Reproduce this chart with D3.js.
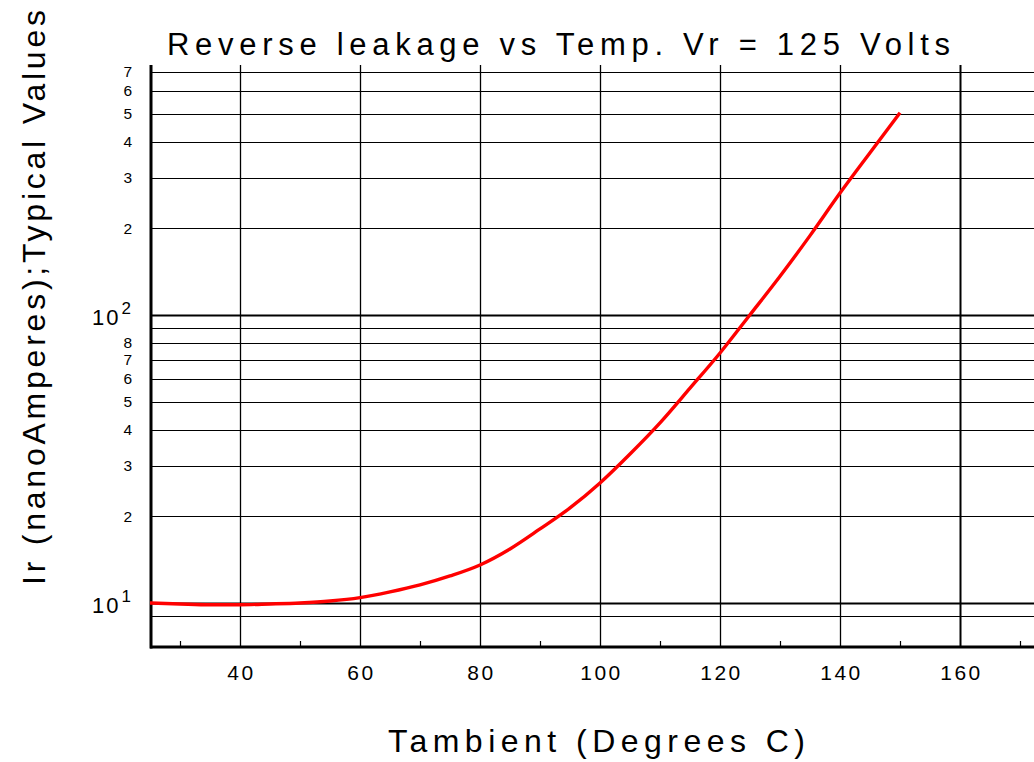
<!DOCTYPE html>
<html>
<head>
<meta charset="utf-8">
<script src="https://cdn.jsdelivr.net/npm/d3@7"></script>
<style>
  body { margin: 0; background: #fff; }
  text { font-family: "Liberation Sans", Arial, sans-serif; fill: #000; }
</style>
</head>
<body>
<div id="chart"></div>
<script>
// temperature (deg C) and typical reverse leakage (nA)
const temps = [25, 30, 35, 40, 45, 50, 55, 60, 65, 70, 75, 80, 85, 90, 95, 100, 105, 110, 115, 120, 125, 130, 135, 140, 145, 150];
const leakage = [10, 9.92, 9.86, 9.86, 9.92, 10, 10.15, 10.43, 10.92, 11.55, 12.41, 13.55, 15.4, 18.07, 21.38, 26.1, 32.9, 42.2, 55.7, 73.8, 100.2, 136.3, 188.6, 265, 366, 504];

const xMajor = [40, 60, 80, 100, 120, 140, 160];
const xMinor = [30, 50, 70, 90, 110, 130, 150, 170];
const yGrid = [9, 10, 20, 30, 40, 50, 60, 70, 80, 90, 100, 200, 300, 400, 500, 600, 700];
const yLabels = ['2', '3', '4', '5', '6', '7', '8', '2', '3', '4', '5', '6', '7'];
const yLabelVals = [20, 30, 40, 50, 60, 70, 80, 200, 300, 400, 500, 600, 700];
const decades = [10, 100];

const width = 1034, height = 762;
const m = { left: 150, right: 1034, top: 65, bottom: 647 };

const svg = d3.select('#chart').append('svg')
  .attr('width', width)
  .attr('height', height);

const x = d3.scaleLinear().domain([25, 172.33]).range([m.left, m.right]);
const y = d3.scaleLog().domain([7.03, 738]).range([m.bottom, m.top]);

// horizontal grid
svg.selectAll('line.hgrid')
  .data(yGrid)
  .enter().append('line')
    .attr('x1', m.left).attr('x2', m.right)
    .attr('y1', d => Math.round(y(d)) + 0.5)
    .attr('y2', d => Math.round(y(d)) + 0.5)
    .attr('stroke', '#000')
    .attr('stroke-width', d => decades.includes(d) ? 2 : 1);

// vertical grid
svg.selectAll('line.vgrid')
  .data(xMajor)
  .enter().append('line')
    .attr('x1', d => Math.round(x(d)) + 0.5).attr('x2', d => Math.round(x(d)) + 0.5)
    .attr('y1', m.top).attr('y2', m.bottom)
    .attr('stroke', '#000')
    .attr('stroke-width', d => d === 160 ? 2 : 1.3);

// minor ticks on bottom axis
svg.selectAll('line.minor')
  .data(xMinor)
  .enter().append('line')
    .attr('x1', d => Math.round(x(d)) + 0.5).attr('x2', d => Math.round(x(d)) + 0.5)
    .attr('y1', m.bottom - 6).attr('y2', m.bottom)
    .attr('stroke', '#000')
    .attr('stroke-width', 1.2);

// axis lines
svg.append('line')
  .attr('x1', m.left + 1).attr('x2', m.left + 1)
  .attr('y1', m.top).attr('y2', m.bottom + 1.5)
  .attr('stroke', '#000').attr('stroke-width', 3);
svg.append('line')
  .attr('x1', m.left).attr('x2', m.right)
  .attr('y1', m.bottom).attr('y2', m.bottom)
  .attr('stroke', '#000').attr('stroke-width', 3);

// x tick labels
svg.selectAll('text.xt')
  .data(xMajor)
  .enter().append('text')
    .attr('x', d => x(d) + 1.5)
    .attr('y', 680)
    .attr('text-anchor', 'middle')
    .attr('font-size', 21)
    .attr('letter-spacing', 2.5)
    .text(d => d);

// y tick labels
svg.selectAll('text.yt')
  .data(yLabelVals)
  .enter().append('text')
    .attr('x', 132)
    .attr('y', d => y(d) + 5.5)
    .attr('text-anchor', 'end')
    .attr('font-size', 15.5)
    .text((d, i) => yLabels[i]);

// decade labels 10^1, 10^2
const dec = svg.selectAll('text.dec')
  .data(decades)
  .enter().append('text')
    .attr('x', 92)
    .attr('y', d => y(d) + 10)
    .attr('font-size', 22);
dec.append('tspan').attr('letter-spacing', 2).text('10');
dec.append('tspan').attr('dy', -11).attr('font-size', 17).attr('dx', 1)
  .text(d => d === 10 ? '1' : '2');

// curve
const line = d3.line()
  .x(d => x(d[0]))
  .y(d => y(d[1]))
  .curve(d3.curveMonotoneX);

svg.append('path')
  .datum(temps.map((t, i) => [t, leakage[i]]))
  .attr('fill', 'none')
  .attr('stroke', '#ff0000')
  .attr('stroke-width', 3.4)
  .attr('stroke-linejoin', 'round')
  .attr('d', line);

// title
svg.append('text')
  .attr('x', 167)
  .attr('y', 55)
  .attr('font-size', 31)
  .attr('textLength', 783)
  .attr('lengthAdjust', 'spacing')
  .text('Reverse leakage vs Temp. Vr = 125 Volts');

// x axis title
svg.append('text')
  .attr('x', 388)
  .attr('y', 752)
  .attr('font-size', 32)
  .attr('textLength', 417)
  .attr('lengthAdjust', 'spacing')
  .text('Tambient (Degrees C)');

// y axis title
svg.append('text')
  .attr('transform', 'translate(45,585) rotate(-90)')
  .attr('font-size', 32)
  .attr('textLength', 575)
  .attr('lengthAdjust', 'spacing')
  .text('Ir (nanoAmperes);Typical Values');
</script>
</body>
</html>
